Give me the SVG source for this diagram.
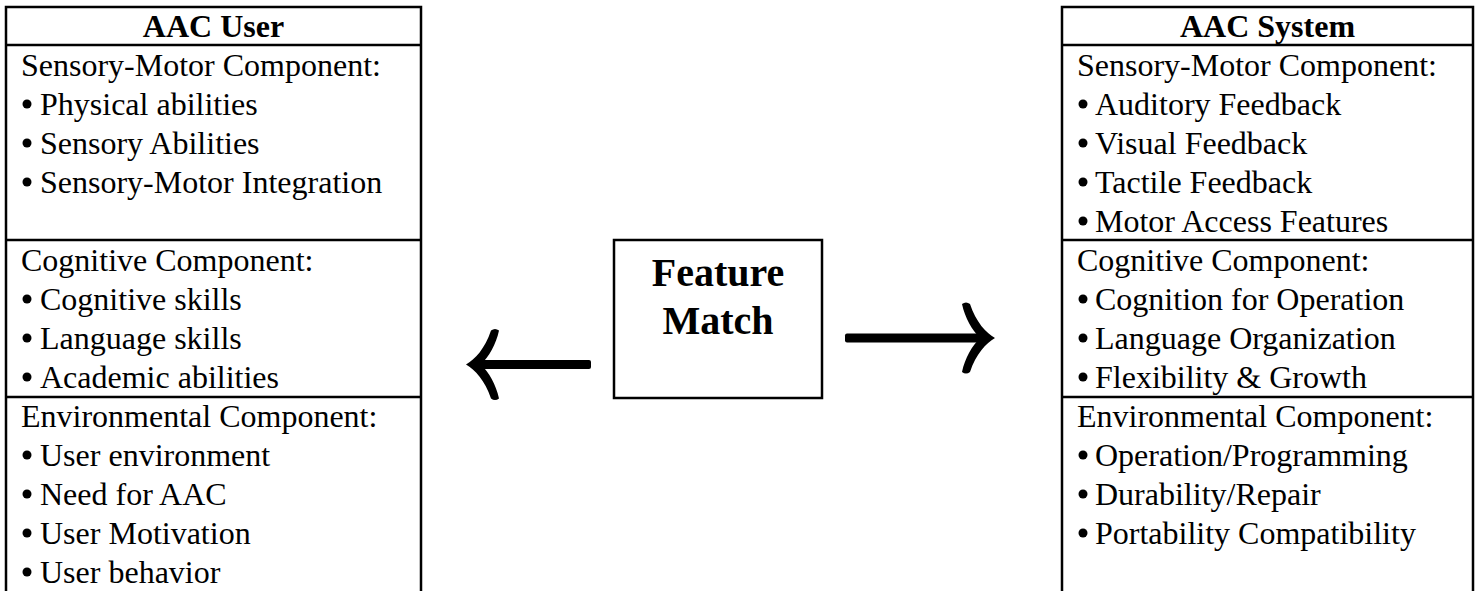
<svg xmlns="http://www.w3.org/2000/svg" width="1477" height="591" viewBox="0 0 1477 591">
  <style>
    .frame { fill: none; stroke: #000; stroke-width: 2.5; }
    .rule { stroke: #000; stroke-width: 2.5; }
    .head { font-family: "Liberation Serif", "Times New Roman", serif; font-weight: bold; font-size: 32px; text-anchor: middle; fill: #000; }
    .txt { font-family: "Liberation Serif", "Times New Roman", serif; font-size: 32px; fill: #000; }
    .big { font-family: "Liberation Serif", "Times New Roman", serif; font-weight: bold; font-size: 40px; text-anchor: middle; fill: #000; }
    .shaft { fill: #000; }
  </style>
  <defs>
    <!-- curved arrowhead, tip at origin, pointing right -->
    <path id="arrowhead" d="M 3 0 C -6 -5 -16 -16 -22 -34 Q -26 -37 -30 -34 C -27 -20 -20 -8 -12 0 C -20 8 -27 20 -30 34 Q -26 37 -22 34 C -16 16 -6 5 3 0 Z"/>
    <circle id="bullet" r="4.5"/>
  </defs>
  <rect width="1477" height="591" fill="#fff"/>

  <!-- left table: user profile -->
  <g id="aac-user">
    <path class="frame" d="M 6 600 V 7 H 421 V 600"/>
    <line class="rule" x1="6" y1="45" x2="421" y2="45"/>
    <line class="rule" x1="6" y1="240" x2="421" y2="240"/>
    <line class="rule" x1="6" y1="397" x2="421" y2="397"/>
    <text class="head" x="213.5" y="37">AAC User</text>
    <text class="txt" x="21" y="76">Sensory-Motor Component:</text>
    <use href="#bullet" x="27" y="104"/><text class="txt" x="40" y="115">Physical abilities</text>
    <use href="#bullet" x="27" y="143"/><text class="txt" x="40" y="154">Sensory Abilities</text>
    <use href="#bullet" x="27" y="182"/><text class="txt" x="40" y="193">Sensory-Motor Integration</text>
    <text class="txt" x="21" y="271">Cognitive Component:</text>
    <use href="#bullet" x="27" y="299"/><text class="txt" x="40" y="310">Cognitive skills</text>
    <use href="#bullet" x="27" y="338"/><text class="txt" x="40" y="349">Language skills</text>
    <use href="#bullet" x="27" y="377"/><text class="txt" x="40" y="388">Academic abilities</text>
    <text class="txt" x="21" y="427">Environmental Component:</text>
    <use href="#bullet" x="27" y="455"/><text class="txt" x="40" y="466">User environment</text>
    <use href="#bullet" x="27" y="494"/><text class="txt" x="40" y="505">Need for AAC</text>
    <use href="#bullet" x="27" y="533"/><text class="txt" x="40" y="544">User Motivation</text>
    <use href="#bullet" x="27" y="572"/><text class="txt" x="40" y="583">User behavior</text>
  </g>

  <!-- centre box -->
  <g id="feature-match">
    <rect class="frame" x="614" y="240" width="208" height="158"/>
    <text class="big" x="718" y="286">Feature</text>
    <text class="big" x="718" y="334">Match</text>
  </g>

  <!-- right table: system features -->
  <g id="aac-system">
    <path class="frame" d="M 1062 600 V 7 H 1473 V 600"/>
    <line class="rule" x1="1062" y1="45" x2="1473" y2="45"/>
    <line class="rule" x1="1062" y1="240" x2="1473" y2="240"/>
    <line class="rule" x1="1062" y1="397" x2="1473" y2="397"/>
    <text class="head" x="1267.5" y="37">AAC System</text>
    <text class="txt" x="1077" y="76">Sensory-Motor Component:</text>
    <use href="#bullet" x="1083" y="104"/><text class="txt" x="1095" y="115">Auditory Feedback</text>
    <use href="#bullet" x="1083" y="143"/><text class="txt" x="1095" y="154">Visual Feedback</text>
    <use href="#bullet" x="1083" y="182"/><text class="txt" x="1095" y="193">Tactile Feedback</text>
    <use href="#bullet" x="1083" y="221"/><text class="txt" x="1095" y="232">Motor Access Features</text>
    <text class="txt" x="1077" y="271">Cognitive Component:</text>
    <use href="#bullet" x="1083" y="299"/><text class="txt" x="1095" y="310">Cognition for Operation</text>
    <use href="#bullet" x="1083" y="338"/><text class="txt" x="1095" y="349">Language Organization</text>
    <use href="#bullet" x="1083" y="377"/><text class="txt" x="1095" y="388">Flexibility &amp; Growth</text>
    <text class="txt" x="1077" y="427">Environmental Component:</text>
    <use href="#bullet" x="1083" y="455"/><text class="txt" x="1095" y="466">Operation/Programming</text>
    <use href="#bullet" x="1083" y="494"/><text class="txt" x="1095" y="505">Durability/Repair</text>
    <use href="#bullet" x="1083" y="533"/><text class="txt" x="1095" y="544">Portability Compatibility</text>
  </g>

  <!-- arrows -->
  <g id="connectors">
    <g id="arrow-left">
      <rect class="shaft" x="474" y="360" width="117" height="9" rx="2"/>
      <use href="#arrowhead" transform="translate(469 364.5) scale(-1 1)"/>
    </g>
    <g id="arrow-right">
      <rect class="shaft" x="845" y="333.5" width="142" height="9" rx="2"/>
      <use href="#arrowhead" transform="translate(992 338)"/>
    </g>
  </g>
</svg>
